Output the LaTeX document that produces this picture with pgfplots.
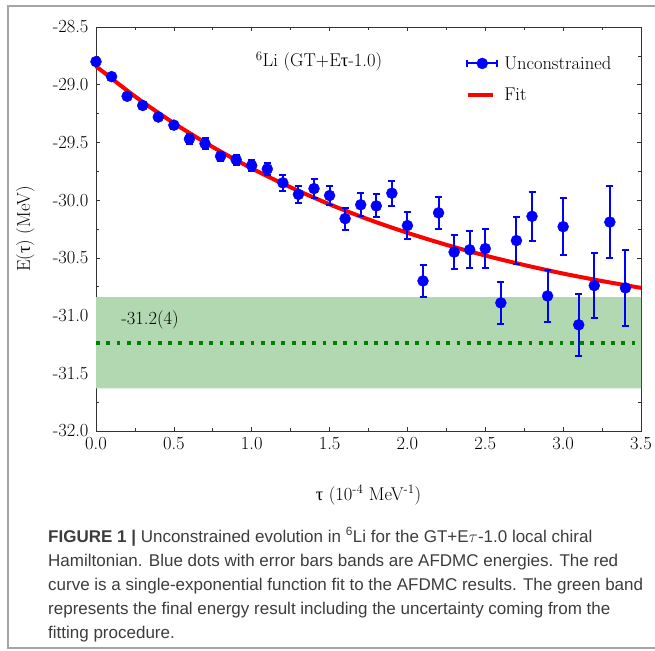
\documentclass[border=0pt]{standalone}
\usepackage{fontspec}
\usepackage{pgfplots}
\usepackage{pgfplotstable}
\pgfplotsset{compat=1.18}
\newfontfamily\capfont{Liberation Sans}
\newfontfamily\grk{Liberation Serif}
\definecolor{bandgreen}{RGB}{178,216,178}
\definecolor{dotgreen}{RGB}{0,128,0}
\definecolor{capgray}{RGB}{60,60,60}
\definecolor{framegray}{RGB}{165,165,165}
\pgfplotstableread{
x y e
0.0 -28.80 0.012
0.1 -28.93 0.02
0.2 -29.10 0.025
0.3 -29.18 0.025
0.4 -29.28 0.03
0.5 -29.35 0.03
0.6 -29.47 0.04
0.7 -29.51 0.05
0.8 -29.62 0.04
0.9 -29.65 0.045
1.0 -29.70 0.05
1.1 -29.73 0.05
1.2 -29.85 0.07
1.3 -29.95 0.075
1.4 -29.90 0.08
1.5 -29.96 0.08
1.6 -30.16 0.095
1.7 -30.04 0.10
1.8 -30.05 0.10
1.9 -29.94 0.11
2.0 -30.22 0.12
2.1 -30.70 0.135
2.2 -30.11 0.14
2.3 -30.45 0.145
2.4 -30.43 0.16
2.5 -30.42 0.17
2.6 -30.89 0.18
2.7 -30.35 0.20
2.8 -30.14 0.21
2.9 -30.83 0.225
3.0 -30.23 0.245
3.1 -31.08 0.27
3.2 -30.74 0.28
3.3 -30.19 0.31
3.4 -30.76 0.33
}\datatable
\begin{document}
\begin{tikzpicture}
\path[use as bounding box] (0,0) rectangle (655pt,-650pt);
\draw[framegray, line width=1.5pt] (8pt,-6pt) rectangle (675pt,-648pt);
\begin{axis}[
  at={(96pt,-431pt)}, anchor=south west, scale only axis,
  width=545pt, height=404pt,
  xmin=0, xmax=3.5, ymin=-32, ymax=-28.5,
  xtick={0,0.5,1,1.5,2,2.5,3,3.5},
  xticklabels={0.0,0.5,1.0,1.5,2.0,2.5,3.0,3.5},
  ytick={-32,-31.5,-31,-30.5,-30,-29.5,-29,-28.5},
  yticklabels={-32.0,-31.5,-31.0,-30.5,-30.0,-29.5,-29.0,-28.5},
  minor x tick num=1, minor y tick num=1,
  tick align=inside, major tick length=4pt, minor tick length=3pt,
  tick style={black!80, line width=0.6pt},
  axis line style={black!80, line width=0.8pt},
  ticklabel style={font=\fontsize{18.5}{22}\selectfont},
  xticklabel style={yshift=-3pt},
  yticklabel style={xshift=-4pt},
  label style={font=\fontsize{18.5}{22}\selectfont},
  xlabel={{\grk τ} (10\textsuperscript{-4} MeV\textsuperscript{-1})},
  ylabel={E({\grk τ}) (MeV)},
  xlabel style={at={(axis description cs:0.5,-0.158)}, anchor=center},
  ylabel style={at={(axis description cs:-0.130,0.5)}, anchor=center},
  clip=false,
  legend style={at={(axis description cs:0.679,0.933)}, anchor=north west,
    draw=none, fill=none, font=\fontsize{18.5}{22}\selectfont,
    row sep=13pt, inner sep=0pt},
  legend cell align=left,
]
\addlegendimage{legend image code/.code={
  \draw[blue, line width=2pt] (0pt,0pt) -- (30pt,0pt);
  \draw[blue, line width=2pt] (0pt,-3.5pt) -- (0pt,3.5pt) (30pt,-3.5pt) -- (30pt,3.5pt);
  \fill[blue] (15pt,0pt) circle (5.5pt);}}
\addlegendentry{\hspace{4pt}Unconstrained}
\addlegendimage{legend image code/.code={
  \draw[red, line width=4pt] (1pt,0pt) -- (26pt,0pt);}}
\addlegendentry{\hspace{4pt}Fit}
% band
\addplot[draw=none, fill=bandgreen, forget plot] coordinates
  {(0,-30.84) (3.5,-30.84) (3.5,-31.63) (0,-31.63) (0,-30.84)};
% final energy
\addplot[dotgreen, line width=3.8pt, dash pattern=on 3.8pt off 6.5pt, forget plot] coordinates
  {(0,-31.24) (3.5,-31.24)};
% fit
\addplot[red, line width=4pt, smooth, forget plot] coordinates {
  (0,-28.84) (0.25,-29.101) (0.5,-29.333) (0.75,-29.540) (1.0,-29.725)
  (1.25,-29.889) (1.5,-30.036) (1.75,-30.167) (2.0,-30.283) (2.25,-30.387)
  (2.5,-30.480) (2.75,-30.562) (3.0,-30.636) (3.25,-30.701) (3.5,-30.760)};
% data
\addplot[only marks, mark=*, mark size=5.5pt, color=blue, forget plot,
  error bars/.cd, y dir=both, y explicit,
  error bar style={line width=2pt, color=blue},
  error mark options={rotate=90, mark size=3.5pt, line width=2pt, color=blue}]
  table[x=x, y=y, y error=e]{\datatable};
\node[font=\fontsize{18.5}{22}\selectfont, anchor=center] at (axis cs:1.432,-28.80)
  {\textsuperscript{6}Li (GT+E{\grk τ}-1.0)};
\node[font=\fontsize{18.5}{22}\selectfont, anchor=center] at (axis cs:0.347,-31.04) {-31.2(4)};
\end{axis}
\node[anchor=base west, inner sep=0pt, text=capgray] at (48pt,-542pt) {\parbox[t]{615pt}{\leavevmode\capfont\fontsize{17}{24}\selectfont\raggedright
\textbf{FIGURE 1 |} Unconstrained evolution in \textsuperscript{6}Li for the GT+E$\tau$-1.0 local chiral\\
Hamiltonian. Blue dots with error bars bands are AFDMC energies. The red\\
curve is a single-exponential function fit to the AFDMC results. The green band\\
represents the final energy result including the uncertainty coming from the\\
fitting procedure.}};
\end{tikzpicture}
\end{document}
